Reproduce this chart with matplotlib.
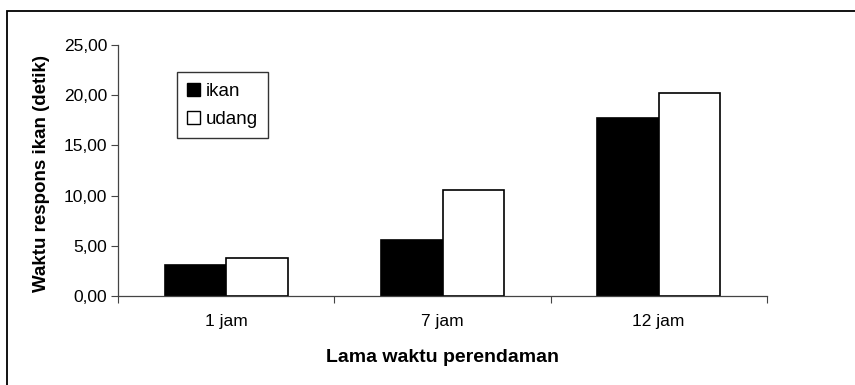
import matplotlib
matplotlib.use("Agg")
import matplotlib.pyplot as plt
from matplotlib.patches import Rectangle, Patch
import numpy as np

categories = ["1 jam", "7 jam", "12 jam"]
ikan = [3.05, 5.55, 17.75]
udang = [3.82, 10.6, 20.25]
yticks = [0, 5, 10, 15, 20, 25]
ytick_labels = ["0,00", "5,00", "10,00", "15,00", "20,00", "25,00"]

plt.rcParams['font.family'] = ['Liberation Sans', 'DejaVu Sans']

W, H = 855, 385
fig = plt.figure(figsize=(W / 100, H / 100), dpi=100)

# outer frame
fig.patches.append(Rectangle((7 / W, -0.05), 1.1, 1 - 11 / H + 0.05,
                             transform=fig.transFigure, fill=False,
                             edgecolor="black", linewidth=1.3))

ax = fig.add_axes([118.3 / W, 1 - 296 / H, (766.7 - 118.3) / W, (296 - 45) / H])

x = np.arange(len(categories))
bw = 1 / 3.5
ax.bar(x - bw / 2, ikan, width=bw, color="black", edgecolor="black", linewidth=1.2, label="ikan")
ax.bar(x + bw / 2, udang, width=bw, color="white", edgecolor="black", linewidth=1.2, label="udang")

ax.set_xlim(-0.5, len(categories) - 0.5)
ax.set_ylim(0, 25)
ax.set_yticks(yticks)
ax.set_yticklabels(ytick_labels, fontsize=12.5)

ax.set_xticks(np.arange(-0.5, len(categories)), minor=False)
ax.set_xticklabels([])
ax.set_xticks(x, minor=True)
ax.set_xticklabels(categories, minor=True, fontsize=12.5)
ax.tick_params(axis="x", which="minor", length=0, pad=13)
ax.tick_params(axis="x", which="major", direction="out", length=5, width=0.8, color="#444444")
ax.tick_params(axis="y", direction="out", length=5, width=0.8, color="#444444", pad=3)

for s in ["top", "right"]:
    ax.spines[s].set_visible(False)
for s in ["left", "bottom"]:
    ax.spines[s].set_color("#444444")
    ax.spines[s].set_linewidth(0.9)

ax.set_ylabel("Waktu respons ikan (detik)", fontsize=13.5, fontweight="bold")
ax.yaxis.set_label_coords(-(118.3 - 50) / (766.7 - 118.3), 0.49)
ax.set_xlabel("Lama waktu perendaman", fontsize=14, fontweight="bold")
ax.xaxis.set_label_coords(0.5, -(349 - 296) / (296 - 45))

handles = [Patch(facecolor="black", edgecolor="black", label="ikan"),
           Patch(facecolor="white", edgecolor="black", label="udang")]
leg = fig.legend(handles=handles, loc="upper left",
                 bbox_to_anchor=(176.7 / W, 1 - 72.3 / H),
                 fontsize=13.5, frameon=True, fancybox=False,
                 handlelength=0.7, handleheight=0.7, handletextpad=0.3,
                 labelspacing=0.6, borderpad=0.55, borderaxespad=0)
leg.get_frame().set_edgecolor("black")
leg.get_frame().set_linewidth(1.0)

fig.savefig("out.png", dpi=100)
